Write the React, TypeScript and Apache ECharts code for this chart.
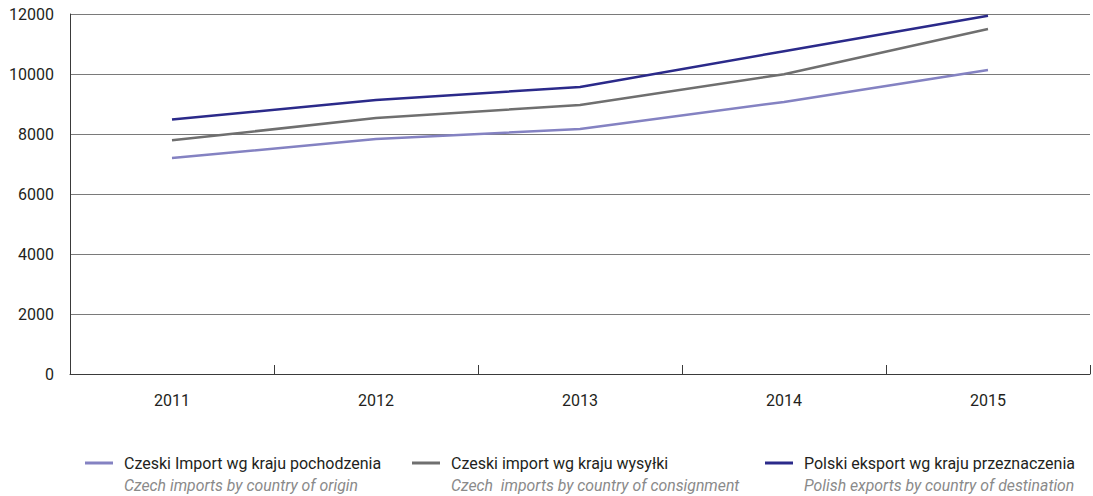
import React, { useEffect, useRef } from "react";
import * as echarts from "echarts";

const years = ["2011", "2012", "2013", "2014", "2015"];
const czechImportOrigin = [7200, 7830, 8170, 9070, 10130];
const czechImportConsignment = [7790, 8530, 8970, 9990, 11500];
const polishExport = [8480, 9130, 9570, 10760, 11940];

const seriesNames = [
  "Czeski Import wg kraju pochodzenia",
  "Czeski import wg kraju wysyłki",
  "Polski eksport wg kraju przeznaczenia",
];
const seriesSubtitles = [
  "Czech imports by country of origin",
  "Czech  imports by country of consignment",
  "Polish exports by country of destination",
];
const colors = ["#8482C2", "#6F6F6F", "#2B2A8A"];

const FONT = "Roboto, sans-serif";

export default function App() {
  const ref = useRef<HTMLDivElement>(null);
  useEffect(() => {
    if (!ref.current) return;
    const chart = echarts.init(ref.current, undefined, { renderer: "svg" });
    const dataSets = [czechImportOrigin, czechImportConsignment, polishExport];
    const legendX = [85, 412, 765];
    const graphics: any[] = [];
    seriesNames.forEach((n, i) => {
      graphics.push({
        type: "line",
        shape: { x1: legendX[i], y1: 463, x2: legendX[i] + 28, y2: 463 },
        style: { stroke: colors[i], lineWidth: 3 },
      });
      graphics.push({
        type: "text",
        x: legendX[i] + 39,
        y: 463,
        style: {
          text: n,
          fill: "#231F20",
          font: `16px ${FONT}`,
          verticalAlign: "middle",
        },
      });
      graphics.push({
        type: "text",
        x: legendX[i] + 39,
        y: 485,
        style: {
          text: seriesSubtitles[i],
          fill: "#8A8A8A",
          font: `italic 15.8px ${FONT}`,
          verticalAlign: "middle",
        },
      });
    });
    chart.setOption({
      animation: false,
      grid: { left: 70, top: 14, right: 3, bottom: 122, containLabel: false },
      xAxis: {
        type: "category",
        data: years,
        boundaryGap: true,
        axisLine: { show: true, lineStyle: { color: "#3A3A3A", width: 1 } },
        axisTick: { show: true, inside: true, length: 9, lineStyle: { color: "#3A3A3A" } },
        axisLabel: { color: "#231F20", fontSize: 16, fontFamily: FONT, margin: 18 },
        splitLine: { show: false },
      },
      yAxis: {
        type: "value",
        min: 0,
        max: 12000,
        interval: 2000,
        axisLine: { show: true, lineStyle: { color: "#3A3A3A", width: 1 } },
        axisTick: { show: false },
        axisLabel: {
          color: "#231F20",
          fontSize: 16,
          fontFamily: FONT,
          margin: 16,
          formatter: (v: number) => String(v),
        },
        splitLine: { show: true, lineStyle: { color: "#7A7A7A", width: 1 } },
      },
      series: dataSets.map((d, i) => ({
        name: seriesNames[i],
        type: "line",
        data: d,
        symbol: "none",
        lineStyle: { color: colors[i], width: 2.5 },
        itemStyle: { color: colors[i] },
      })),
      graphic: graphics,
    });
    return () => chart.dispose();
  }, []);
  return (
    <div
      ref={ref}
      style={{ position: "absolute", left: 0, top: 0, width: 1093, height: 496 }}
    />
  );
}
